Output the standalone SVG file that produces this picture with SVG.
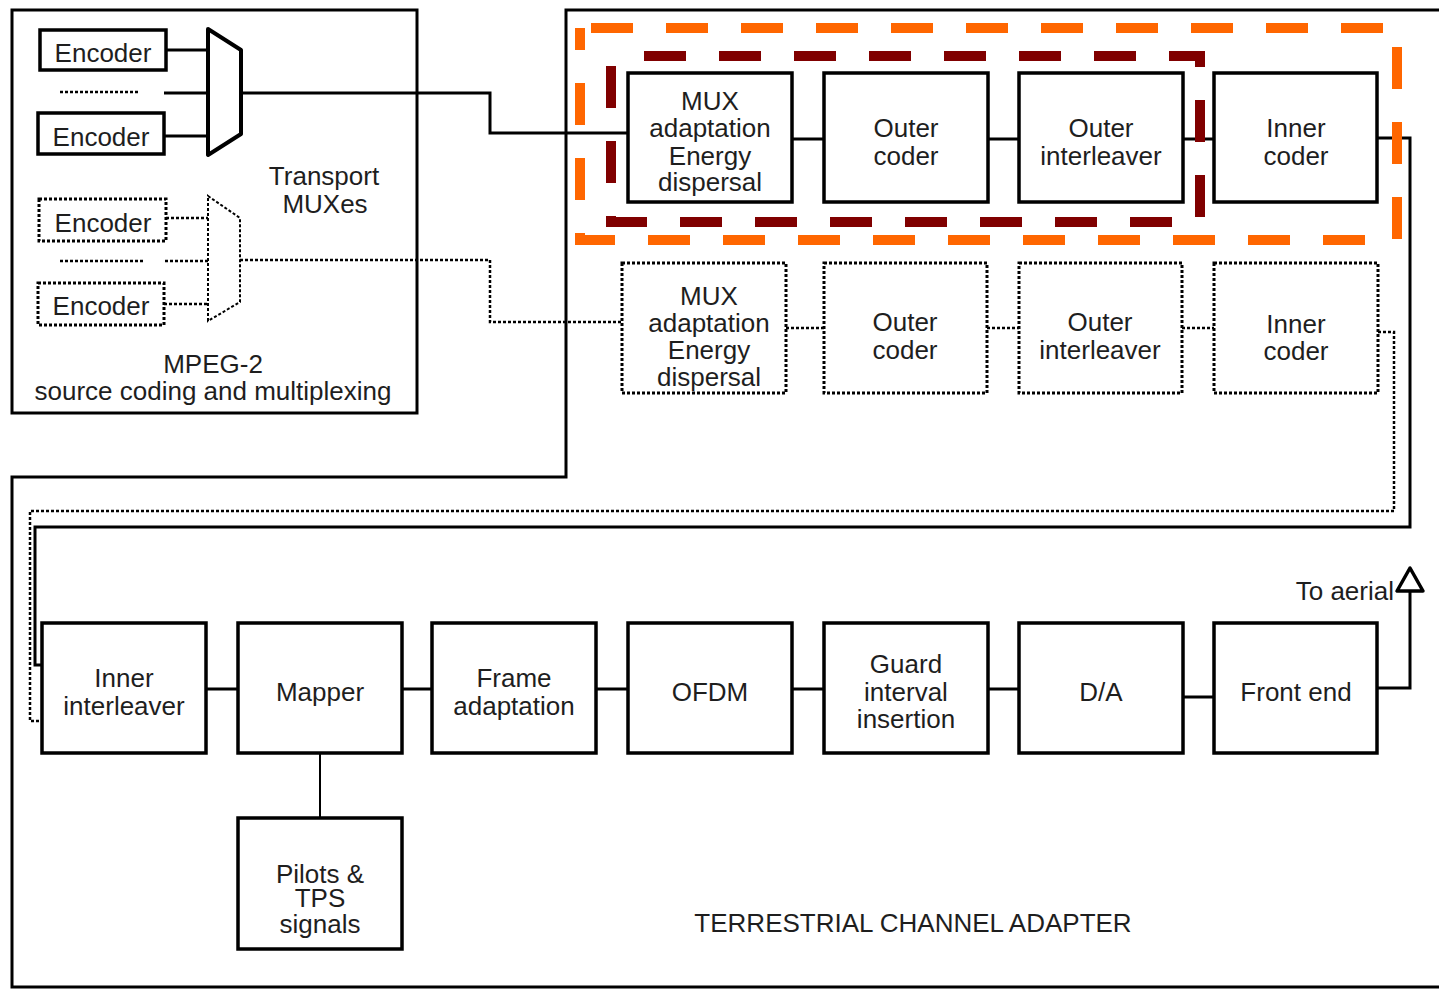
<svg xmlns="http://www.w3.org/2000/svg" width="1439" height="989" viewBox="0 0 1439 989">
<style>
.bx{fill:#fff;stroke:#000;stroke-width:3.5}
.dbx{fill:none;stroke:#000;stroke-width:3;stroke-dasharray:3 2}
.ln{fill:none;stroke:#000;stroke-width:3}
.thin{fill:none;stroke:#000;stroke-width:2}
.dl{fill:none;stroke:#000;stroke-width:2.5;stroke-dasharray:3 2}
.fr{fill:none;stroke:#000;stroke-width:3}
text{font-family:"Liberation Sans",Arial,sans-serif;font-size:26px;fill:#1e1e1e;text-anchor:middle}
.or{fill:none;stroke:#FF6600;stroke-width:10;stroke-dasharray:42 33;stroke-dashoffset:-11}
.dr{fill:none;stroke:#800000;stroke-width:10;stroke-dasharray:42 33;stroke-dashoffset:-33}
</style>
<rect width="1439" height="989" fill="#fff"/>
<g id="frames">
<rect x="12" y="10" width="405" height="403" class="fr"/>
<path d="M1439 10 H566 V477 H12 V987 H1439" class="fr"/>
</g>
<g id="connectors">
<path d="M166 50 H208 M164 93 H208 M164 136 H208" class="ln"/>
<path d="M60 92 H140" class="dl"/>
<path d="M241 93 H490 V133 H627" class="ln"/>
<path d="M166 218 H208 M165 261 H208 M164 304 H208 M60 261 H145" class="dl"/>
<path d="M240 260 H490 V322 H622" class="dl"/>
<path d="M792 139 H824 M988 139 H1019 M1183 139 H1214" class="ln"/>
<path d="M1377 138 H1410 V527 H35 V665 H42" class="ln"/>
<path d="M786 328 H824 M987 328 H1019 M1182 328 H1214" class="dl"/>
<path d="M1378 332 H1394 V511 H30 V721 H42" class="dl"/>
<path d="M206 689 H238 M402 689 H432 M596 689 H628 M792 689 H824 M988 689 H1019 M1183 697 H1214" class="ln"/>
<path d="M320 753 V818" class="thin"/>
<path d="M1377 688 H1410 V590" class="ln"/>
</g>
<g id="mpeg2">
<g id="enc1"><rect x="40" y="30" width="126" height="40" class="bx" stroke-width="3"/><text x="103" y="62">Encoder</text></g>
<g id="enc2"><rect x="38" y="113" width="126" height="41" class="bx" stroke-width="3"/><text x="101" y="146">Encoder</text></g>
<g id="enc3"><rect x="39" y="199" width="127" height="42" class="dbx"/><text x="103" y="232">Encoder</text></g>
<g id="enc4"><rect x="38" y="283" width="126" height="42" class="dbx"/><text x="101" y="315">Encoder</text></g>
<g id="mux1"><path d="M208 29 L241 50 V134 L208 155 Z" fill="#fff" stroke="#000" stroke-width="4" stroke-linejoin="round"/></g>
<g id="mux2"><path d="M208 196 L240 218 V302 L208 321 Z" fill="none" stroke="#000" stroke-width="2" stroke-dasharray="3 2"/></g>
<text x="324" y="185">Transport</text>
<text x="325" y="213">MUXes</text>
<text x="213" y="373">MPEG-2</text>
<text x="213" y="400">source coding and multiplexing</text>
</g>
<g id="row1">
<g id="muxad"><rect x="628" y="73" width="164" height="129" class="bx"/><text x="710" y="110">MUX</text><text x="710" y="137">adaptation</text><text x="710" y="165">Energy</text><text x="710" y="191">dispersal</text></g>
<g id="outcod"><rect x="824" y="73" width="164" height="129" class="bx"/><text x="906" y="137">Outer</text><text x="906" y="165">coder</text></g>
<g id="outint"><rect x="1019" y="73" width="164" height="129" class="bx"/><text x="1101" y="137">Outer</text><text x="1101" y="165">interleaver</text></g>
<g id="inncod"><rect x="1214" y="73" width="163" height="129" class="bx"/><text x="1296" y="137">Inner</text><text x="1296" y="165">coder</text></g>
</g>
<g id="row2">
<g id="muxad2"><rect x="622" y="263" width="164" height="130" class="dbx"/><text x="709" y="305">MUX</text><text x="709" y="332">adaptation</text><text x="709" y="359">Energy</text><text x="709" y="386">dispersal</text></g>
<g id="outcod2"><rect x="824" y="263" width="163" height="130" class="dbx"/><text x="905" y="331">Outer</text><text x="905" y="359">coder</text></g>
<g id="outint2"><rect x="1019" y="263" width="163" height="130" class="dbx"/><text x="1100" y="331">Outer</text><text x="1100" y="359">interleaver</text></g>
<g id="inncod2"><rect x="1214" y="263" width="164" height="130" class="dbx"/><text x="1296" y="333">Inner</text><text x="1296" y="360">coder</text></g>
</g>
<g id="row3">
<g id="innint"><rect x="42" y="623" width="164" height="130" class="bx"/><text x="124" y="687">Inner</text><text x="124" y="715">interleaver</text></g>
<g id="mapper"><rect x="238" y="623" width="164" height="130" class="bx"/><text x="320" y="701">Mapper</text></g>
<g id="frame"><rect x="432" y="623" width="164" height="130" class="bx"/><text x="514" y="687">Frame</text><text x="514" y="715">adaptation</text></g>
<g id="ofdm"><rect x="628" y="623" width="164" height="130" class="bx"/><text x="710" y="701">OFDM</text></g>
<g id="guard"><rect x="824" y="623" width="164" height="130" class="bx"/><text x="906" y="673">Guard</text><text x="906" y="701">interval</text><text x="906" y="728">insertion</text></g>
<g id="da"><rect x="1019" y="623" width="164" height="130" class="bx"/><text x="1101" y="701">D/A</text></g>
<g id="front"><rect x="1214" y="623" width="163" height="130" class="bx"/><text x="1296" y="701">Front end</text></g>
<g id="pilots"><rect x="238" y="818" width="164" height="131" class="bx"/><text x="320" y="883">Pilots &amp;</text><text x="320" y="907">TPS</text><text x="320" y="933">signals</text></g>
<g id="aerial"><path d="M1410 568 L1397 591 H1423 Z" fill="#fff" stroke="#000" stroke-width="3.5" stroke-linejoin="round"/><text x="1394" y="600" style="text-anchor:end">To aerial</text></g>
<text x="913" y="932">TERRESTRIAL CHANNEL ADAPTER</text>
</g>
<g id="highlights">
<rect x="580" y="28" width="817" height="212" class="or"/>
<rect x="611" y="56" width="589" height="166" class="dr"/>
</g>
</svg>
